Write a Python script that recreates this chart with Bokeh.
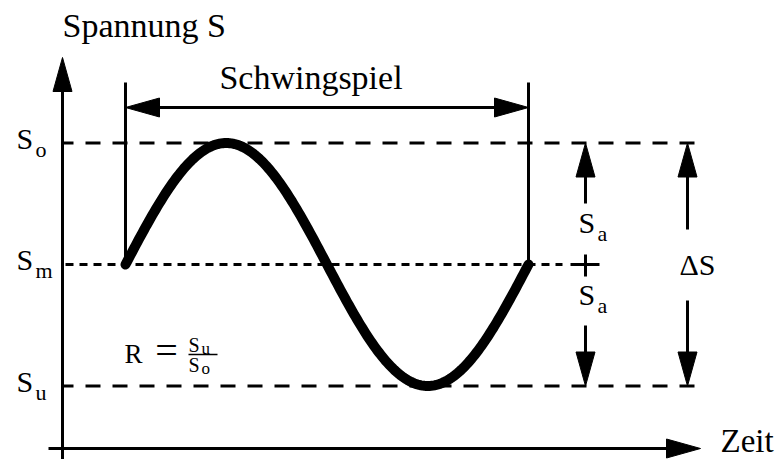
import numpy as np
from bokeh.plotting import figure
from bokeh.models import Range1d
from bokeh.core.properties import value
from bokeh.embed import file_html
from bokeh.resources import INLINE

# Stress levels of one load cycle (schematic units)
S_m = 0.0          # mean stress
S_a = 1.0          # stress amplitude
S_o = S_m + S_a    # upper stress
S_u = S_m - S_a    # lower stress
period = 1.0       # duration of one load cycle (Schwingspiel)

level_values = [S_o, S_m, S_u]
level_subscripts = ["o", "m", "u"]

# one full cycle of the sinusoidal load
t_cycle = np.linspace(0.0, period, 241)
s_cycle = S_m + S_a * np.sin(2 * np.pi * t_cycle / period)

# ---------------------------------------------------------------- layout
W, H = 780, 459
PX_T = 403.0 / period      # page pixels per unit of time
PX_S = 121.5 / S_a         # page pixels per unit of stress
X0, Y0 = 125.0, 264.0      # page position of t = 0, S = S_m


def tx(px):
    """page x (pixels from left) -> time"""
    return (px - X0) / PX_T


def sy(py):
    """page y (pixels from top) -> stress"""
    return S_m + (Y0 - py) / PX_S


def dx(px):
    return px / PX_T


def dy(px):
    return px / PX_S


FONT = value("Liberation Serif")
BLACK = "#000000"
HEAD_L, HEAD_W = 34.0, 19.0   # arrow head length / width in pixels
BASELINE_FIX = 0.3            # svg text sits this many em below the requested baseline

p = figure(width=W, height=H, output_backend="svg", toolbar_location=None,
           x_axis_type=None, y_axis_type=None, min_border=0,
           x_range=Range1d(tx(0), tx(W)), y_range=Range1d(sy(H), sy(0)))
p.grid.visible = False
p.outline_line_color = None
p.background_fill_color = "white"
p.border_fill_color = "white"

heads_x, heads_y = [], []


def head(t, s, direction):
    """filled triangular arrow head with its tip at (t, s)"""
    l_t, l_s = dx(HEAD_L), dy(HEAD_L)
    w_t, w_s = dx(HEAD_W / 2), dy(HEAD_W / 2)
    if direction == "up":
        xs, ys = [t, t - w_t, t + w_t], [s, s - l_s, s - l_s]
    elif direction == "down":
        xs, ys = [t, t - w_t, t + w_t], [s, s + l_s, s + l_s]
    elif direction == "left":
        xs, ys = [t, t + l_t, t + l_t], [s, s + w_s, s - w_s]
    else:
        xs, ys = [t, t - l_t, t - l_t], [s, s + w_s, s - w_s]
    heads_x.append(xs)
    heads_y.append(ys)


# ---------------------------------------------------------------- axes
t_axis = tx(62)
s_axis = sy(448)
p.segment(x0=[t_axis], y0=[sy(H + 5)], x1=[t_axis], y1=[sy(57) - dy(HEAD_L - 2)],
          line_width=3, line_color=BLACK)
head(t_axis, sy(57), "up")
p.segment(x0=[tx(48)], y0=[s_axis], x1=[tx(700) - dx(HEAD_L - 2)], y1=[s_axis],
          line_width=3, line_color=BLACK)
head(tx(700), s_axis, "right")

# ---------------------------------------------------------------- stress levels
t_level_end = tx(700)
p.line(x=[t_axis, t_level_end], y=[S_o, S_o], line_width=3, line_color=BLACK,
       line_dash="15 12", line_dash_offset=4)
p.line(x=[t_axis, t_level_end], y=[S_u, S_u], line_width=3, line_color=BLACK,
       line_dash="15 12", line_dash_offset=4)
p.line(x=[t_axis, tx(562)], y=[S_m, S_m], line_width=3, line_color=BLACK,
       line_dash="8 6", line_dash_offset=11)

# ---------------------------------------------------------------- cycle length
s_span = sy(107)
p.segment(x0=[0.0, period], y0=[S_m, S_m], x1=[0.0, period], y1=[sy(82), sy(82)],
          line_width=3, line_color=BLACK)
p.segment(x0=[dx(HEAD_L - 2)], y0=[s_span], x1=[period - dx(HEAD_L - 2)], y1=[s_span],
          line_width=3, line_color=BLACK)
head(0.0, s_span, "left")
head(period, s_span, "right")

# ---------------------------------------------------------------- amplitude arrows
t_sa = tx(585)
p.segment(x0=[t_sa, t_sa], y0=[S_o - dy(HEAD_L - 2), sy(325)],
          x1=[t_sa, t_sa], y1=[sy(203), S_u + dy(HEAD_L - 2)],
          line_width=3, line_color=BLACK)
head(t_sa, S_o, "up")
head(t_sa, S_u, "down")
# small cross marking the mean stress
p.segment(x0=[tx(570), t_sa], y0=[S_m, S_m + dy(10)], x1=[tx(599), t_sa], y1=[S_m, S_m - dy(12)],
          line_width=3, line_color=BLACK)

t_ds = tx(687)
p.segment(x0=[t_ds, t_ds], y0=[S_o - dy(HEAD_L - 2), sy(300)],
          x1=[t_ds, t_ds], y1=[sy(229), S_u + dy(HEAD_L - 2)],
          line_width=3, line_color=BLACK)
head(t_ds, S_o, "up")
head(t_ds, S_u, "down")

p.patches(xs=heads_x, ys=heads_y, fill_color=BLACK, line_color=BLACK, line_width=1)

# ---------------------------------------------------------------- load curve
p.line(x=t_cycle, y=s_cycle, line_width=10, line_color=BLACK,
       line_cap="round", line_join="round")


# ---------------------------------------------------------------- texts
def label(t, s, txt, size, align="left"):
    p.text(x=[t], y=[s + dy(BASELINE_FIX * size)], text=[txt], text_font=FONT,
           text_font_size=f"{size}px", text_color=BLACK, text_align=align,
           text_baseline="alphabetic")


def subscripted(t, s, main, sub, size=30, sub_size=22, sub_gap=19, sub_drop=9):
    label(t, s, main, size)
    label(t + dx(sub_gap), s - dy(sub_drop), sub, sub_size)


label(tx(62), sy(35), "Spannung S", 34)
label(tx(720), sy(450), "Zeit", 33)
label(period / 2 - dx(16), sy(87), "Schwingspiel", 34, align="center")

for lvl, sub in zip(level_values, level_subscripts):
    subscripted(tx(16), lvl - dy(4), "S", sub)

subscripted(tx(578), sy(231), "S", "a")
subscripted(tx(578), sy(303), "S", "a")
label(tx(679), sy(273), "ΔS", 30)

# R = S_u / S_o
label(tx(124), sy(362), "R", 27)
label(tx(166), sy(362), "=", 40, align="center")
subscripted(tx(188), sy(350), "S", "u", size=20, sub_size=17, sub_gap=13, sub_drop=3)
p.segment(x0=[tx(188)], y0=[sy(354)], x1=[tx(217)], y1=[sy(354)], line_width=1.5, line_color=BLACK)
subscripted(tx(188), sy(370), "S", "o", size=20, sub_size=17, sub_gap=13, sub_drop=3)

open("out.html", "w").write(file_html(p, INLINE))
